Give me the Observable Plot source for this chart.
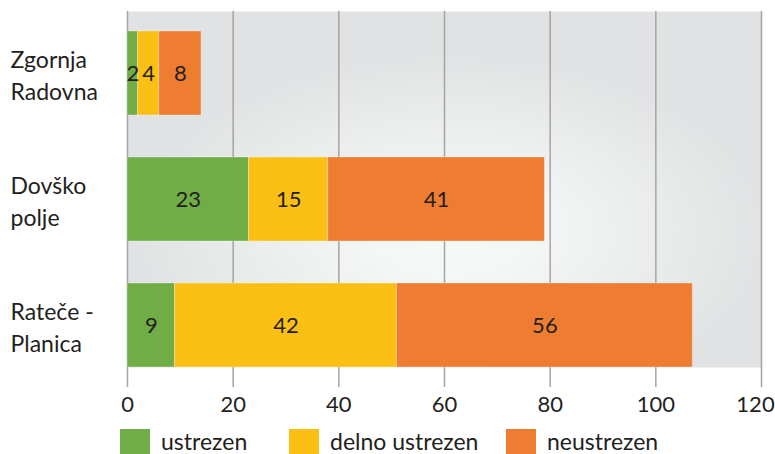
<!DOCTYPE html>
<html>
<head>
<meta charset="utf-8">
<script src="https://cdn.jsdelivr.net/npm/d3@7"></script>
<script src="https://cdn.jsdelivr.net/npm/@observablehq/plot@0.6"></script>
<style>
  html, body { margin: 0; padding: 0; background: #fff; overflow: hidden; }
  #chart { width: 775px; }
  #legend { position: relative; width: 775px; height: 29px; font-family: Lato, sans-serif; font-size: 23px; color: #231f20; }
  .item { position: absolute; top: 4px; display: flex; align-items: center; height: 24px; }
  .sw { width: 30px; height: 25px; margin-right: 11px; }
  .lab { line-height: 22px; white-space: nowrap; }
</style>
</head>
<body>
<div id="chart"></div>
<div id="legend"></div>
<script>
const sites = ["Zgornja Radovna", "Dovško polje", "Rateče - Planica"];
const siteLabels = ["Zgornja\nRadovna", "Dovško\npolje", "Rateče -\nPlanica"];
const categories = ["ustrezen", "delno ustrezen", "neustrezen"];
const ustrezen = [2, 23, 9];
const delnoUstrezen = [4, 15, 42];
const neustrezen = [8, 41, 56];
const xTicks = [0, 20, 40, 60, 80, 100, 120];
const colors = ["#70ad47", "#fbc013", "#ee7d31"];

const series = [ustrezen, delnoUstrezen, neustrezen];
const rows = [];
sites.forEach((s, i) => categories.forEach((c, j) => rows.push({site: s, cat: c, value: series[j][i]})));

const textColor = "#231f20";
const lastTick = xTicks[xTicks.length - 1];

const chart = Plot.plot({
  width: 775,
  height: 425,
  marginLeft: 127,
  marginRight: 14,
  marginTop: 31,
  marginBottom: 58,
  style: {fontFamily: "Lato, sans-serif", fontSize: "22px", color: textColor, background: "#fff", overflow: "visible"},
  x: {domain: [0, 120], axis: null, label: null},
  y: {domain: sites, paddingInner: 1/3, paddingOuter: 0, axis: null, label: null},
  color: {domain: categories, range: colors},
  marks: [
    Plot.frame({fill: "url(#bggrad)", stroke: "none", insetTop: -20}),
    Plot.ruleX(xTicks, {stroke: "#a4a4a4", strokeWidth: 1.5, insetTop: -20, insetBottom: -20}),
    Plot.barX(rows, Plot.stackX({x: "value", y: "site", z: "cat", fill: "cat", order: categories, stroke: "#ffffff", strokeOpacity: 0.3, strokeWidth: 1})),
    Plot.text(rows, Plot.stackX({x: "value", y: "site", z: "cat", text: "value", order: categories, fill: textColor, fontSize: 22})),
    Plot.text(sites, {y: d => d, text: (d, i) => siteLabels[i], frameAnchor: "left", dx: -117, textAnchor: "start", lineHeight: 1.43, fontSize: 23, fill: textColor}),
    Plot.axisX({ticks: xTicks.filter(t => t !== lastTick), tickSize: 0, tickPadding: 29, fontSize: 22, fill: textColor, label: null}),
    Plot.axisX({ticks: [lastTick], tickSize: 0, tickPadding: 29, fontSize: 22, fill: textColor, label: null, dx: -6})
  ]
});

const ns = "http://www.w3.org/2000/svg";
const defs = document.createElementNS(ns, "defs");
defs.innerHTML = `<radialGradient id="bggrad" cx="0.51" cy="0.62" r="0.5" gradientUnits="objectBoundingBox">
  <stop offset="0" stop-color="#f8f9f9"/>
  <stop offset="0.25" stop-color="#f5f6f6"/>
  <stop offset="1" stop-color="#e1e2e3"/>
</radialGradient>`;
chart.insertBefore(defs, chart.firstChild);
document.getElementById("chart").appendChild(chart);

const legend = d3.select("#legend");
const lefts = [120, 289, 506];
categories.forEach((c, i) => {
  const it = legend.append("div").attr("class", "item").style("left", lefts[i] + "px");
  it.append("div").attr("class", "sw").style("background", colors[i]);
  it.append("span").attr("class", "lab").text(c);
});
</script>
</body>
</html>
